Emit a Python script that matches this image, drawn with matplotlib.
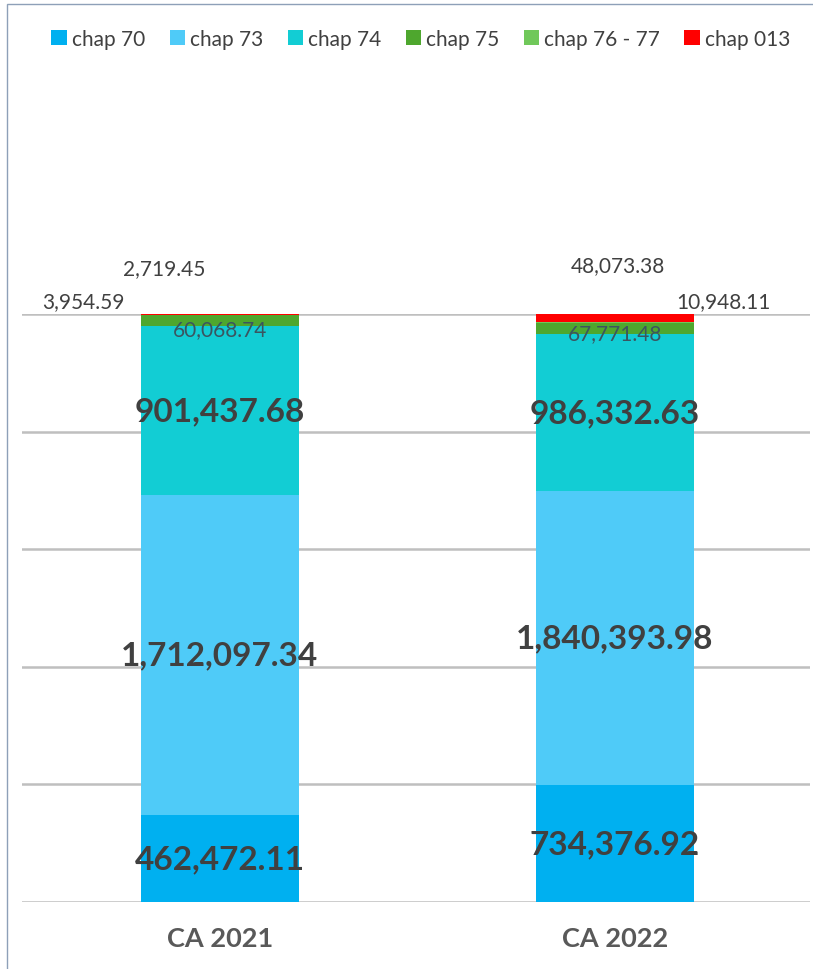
import matplotlib
matplotlib.use("Agg")
import matplotlib.pyplot as plt
from matplotlib.patches import Rectangle
import numpy as np

categories = ["CA 2021", "CA 2022"]
series_names = ["chap 70", "chap 73", "chap 74", "chap 75", "chap 76 - 77", "chap 013"]
chap70 = [462472.11, 734376.92]
chap73 = [1712097.34, 1840393.98]
chap74 = [901437.68, 986332.63]
chap75 = [60068.74, 67771.48]
chap76_77 = [3954.59, 10948.11]
chap013 = [2719.45, 48073.38]
colors = ["#00B0F0", "#4FCBF8", "#12CDD4", "#4EA72E", "#70C85A", "#FF0000"]

plt.rcParams['font.family'] = ['Lato', 'DejaVu Sans']

series = [chap70, chap73, chap74, chap75, chap76_77, chap013]
data = np.array(series, dtype=float)
totals = data.sum(axis=0)
shares = data / totals

fig = plt.figure(figsize=(8.13, 9.70), dpi=100)
ax = fig.add_axes([22/813, 1 - 903/970, (810-22)/813, (903-315)/970])

x = np.arange(len(categories))
bottom = np.zeros(len(categories))
for name, sh, c in zip(series_names, shares, colors):
    ax.bar(x, sh, 0.4, bottom=bottom, color=c, label=name, zorder=3)
    bottom += sh

ax.set_xlim(-0.501, 1.494)
ax.set_ylim(0, 1)
ax.set_yticks(np.arange(0, 1.01, 0.2))
ax.yaxis.grid(True, color="#BFBFBF", lw=1.8, zorder=0)
ax.tick_params(axis='y', left=False, labelleft=False)
ax.tick_params(axis='x', bottom=False, pad=14)
ax.set_xticks(x)
ax.set_xticklabels(categories, fontsize=19.5, fontweight='bold', color="#595959")
for s in ax.spines.values():
    s.set_visible(False)
ax.set_facecolor('none')

def fmt(v):
    return f"{v:,.2f}"

# big labels centered in segments
cum = np.cumsum(shares, axis=0)
for i in range(3):
    for j in range(len(categories)):
        yc = cum[i, j] - shares[i, j] / 2
        ax.text(x[j], yc, fmt(data[i, j]), ha='center', va='center',
                fontsize=24, fontweight='bold', color="#404040", zorder=5)

# chap 75 labels
offs75 = [(0, -10), (0, -7)]
for j in range(len(categories)):
    ax.annotate(fmt(data[3, j]), (x[j], cum[3, j]), xytext=offs75[j],
                textcoords='offset points', ha='center', va='center',
                fontsize=15, color="#3A5560", zorder=5, annotation_clip=False)

# small top labels
offs76 = [(-98, 10), (78, 15)]
offs013 = [(-40, 33), (2, 35)]
for j in range(len(categories)):
    ax.annotate(fmt(data[4, j]), (x[j], cum[4, j]), xytext=offs76[j],
                textcoords='offset points', ha='center', va='center',
                fontsize=15, color="#404040", annotation_clip=False)
    ax.annotate(fmt(data[5, j]), (x[j], cum[5, j]), xytext=offs013[j],
                textcoords='offset points', ha='center', va='center',
                fontsize=15, color="#404040", annotation_clip=False)

leg = fig.legend(loc='center', bbox_to_anchor=(421/813, 1 - 40/970), ncol=6,
                 frameon=False, fontsize=15, handlelength=0.75, handleheight=0.75,
                 handletextpad=0.25, columnspacing=1.15, labelcolor="#404040")

fig.patches.append(Rectangle((7/813, -0.01), 1.0, 1 - 5/970 + 0.01, transform=fig.transFigure,
                             fill=False, edgecolor="#8EA0B8", lw=1.0))

fig.savefig("out.png", dpi=100)
